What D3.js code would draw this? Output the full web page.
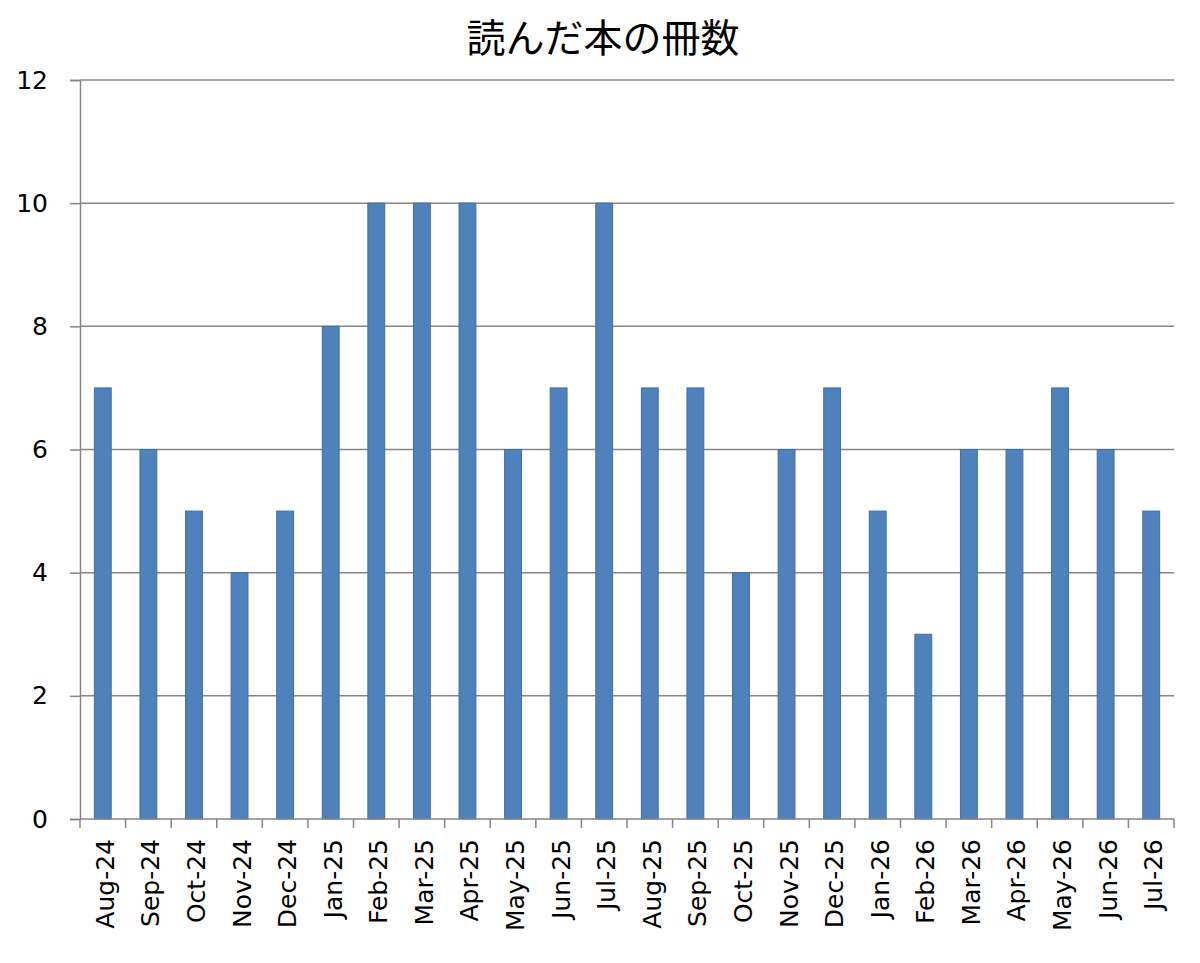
<!DOCTYPE html>
<html>
<head>
<meta charset="utf-8">
<script src="https://cdn.jsdelivr.net/npm/d3@7"></script>
<style>
  body { margin: 0; background: #fff; }
  svg { display: block; }
</style>
</head>
<body>
<svg width="1200" height="963"></svg>
<script>
const months = ['Aug-24','Sep-24','Oct-24','Nov-24','Dec-24','Jan-25','Feb-25','Mar-25','Apr-25','May-25','Jun-25','Jul-25',
                'Aug-25','Sep-25','Oct-25','Nov-25','Dec-25','Jan-26','Feb-26','Mar-26','Apr-26','May-26','Jun-26','Jul-26'];
const books = [7, 6, 5, 4, 5, 8, 10, 10, 10, 6, 7, 10, 7, 7, 4, 6, 7, 5, 3, 6, 6, 7, 6, 5];
const yTicks = [0, 2, 4, 6, 8, 10, 12];
const title = '読んだ本の冊数';

const svg = d3.select('svg');
const plotL = 80, plotR = 1174, plotT = 80, plotB = 819;

const x = d3.scaleBand().domain(months).range([plotL, plotR]).paddingInner(0.63).paddingOuter(0.315);
const y = d3.scaleLinear().domain([0, 12]).range([plotB, plotT]);

// title
svg.append('text')
    .attr('x', 603).attr('y', 52)
    .attr('text-anchor', 'middle')
    .attr('font-family', "'Noto Sans CJK JP', sans-serif")
    .attr('font-size', 39)
    .attr('fill', '#000')
    .text(title);

// gridlines
svg.append('g')
    .selectAll('line')
    .data(yTicks.filter(d => d > 0))
    .join('line')
    .attr('x1', plotL).attr('x2', plotR)
    .attr('y1', d => y(d)).attr('y2', d => y(d))
    .attr('stroke', '#868686').attr('stroke-width', 1.5);

// bars
svg.append('g')
    .selectAll('rect')
    .data(books)
    .join('rect')
    .attr('x', (d, i) => x(months[i]))
    .attr('y', d => y(d))
    .attr('width', x.bandwidth())
    .attr('height', d => plotB - y(d))
    .attr('fill', '#4f81bd')
    .attr('stroke', '#3f6fa8').attr('stroke-width', 1);

// y axis
const yAxis = svg.append('g')
    .attr('transform', `translate(${plotL},0)`)
    .call(d3.axisLeft(y).tickValues(yTicks).tickSize(10).tickPadding(22));
yAxis.select('.domain').attr('stroke', '#868686').attr('stroke-width', 1.5);
yAxis.selectAll('.tick line').attr('stroke', '#868686').attr('stroke-width', 1.5);
yAxis.selectAll('.tick text')
    .attr('font-family', "'DejaVu Sans', sans-serif")
    .attr('font-size', 25).attr('fill', '#000');

// x axis: tick marks at band boundaries
const bounds = months.map(m => x(m) - x.step() * x.paddingInner() / 2).concat([plotR]);
const xg = svg.append('g');
xg.append('line')
    .attr('x1', plotL).attr('x2', plotR)
    .attr('y1', plotB).attr('y2', plotB)
    .attr('stroke', '#868686').attr('stroke-width', 1.5);
xg.selectAll('line.tk')
    .data(bounds)
    .join('line')
    .attr('class', 'tk')
    .attr('x1', d => d).attr('x2', d => d)
    .attr('y1', plotB).attr('y2', plotB + 9)
    .attr('stroke', '#868686').attr('stroke-width', 1.5);

xg.selectAll('text')
    .data(months)
    .join('text')
    .attr('transform', d => `translate(${x(d) + x.bandwidth() / 2 + 11},${plotB + 20}) rotate(-90)`)
    .attr('text-anchor', 'end')
    .attr('font-family', "'DejaVu Sans', sans-serif")
    .attr('font-size', 25)
    .attr('fill', '#000')
    .text(d => d);
</script>
</body>
</html>
